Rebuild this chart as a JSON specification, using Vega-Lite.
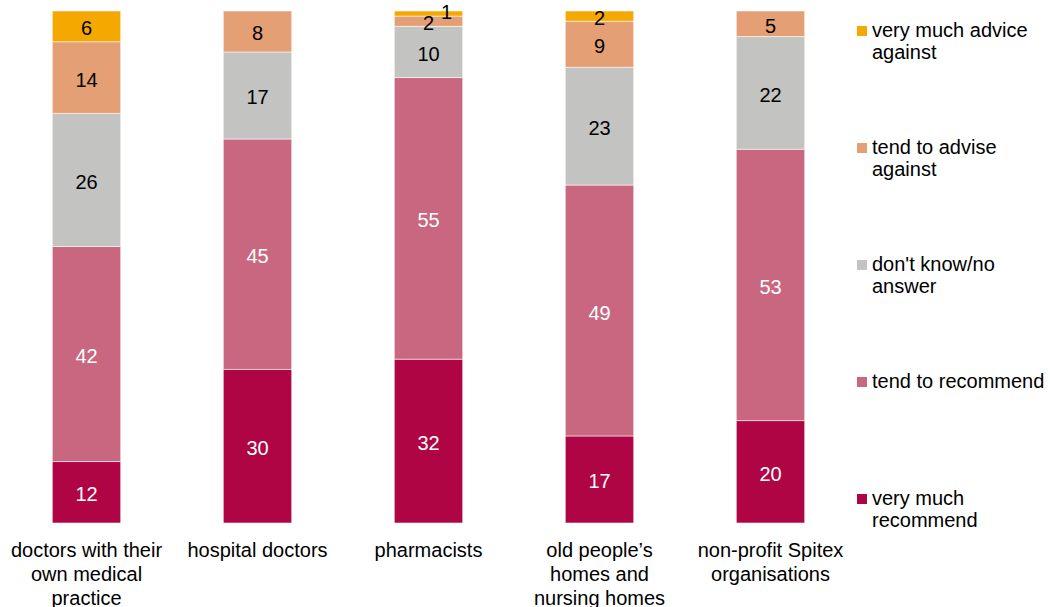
{
  "$schema": "https://vega.github.io/schema/vega-lite/v6.json",
  "width": 855,
  "height": 512,
  "autosize": {"type": "none"},
  "padding": {"left": 1, "top": 11, "right": 194, "bottom": 84},
  "background": "white",
  "config": {
    "font": "Liberation Sans",
    "view": {"stroke": null}
  },
  "data": {
    "values": [
      {"group": "doctors with their own medical practice", "answer": "very much recommend", "rank": 1, "value": 12},
      {"group": "doctors with their own medical practice", "answer": "tend to recommend", "rank": 2, "value": 42},
      {"group": "doctors with their own medical practice", "answer": "don't know/no answer", "rank": 3, "value": 26},
      {"group": "doctors with their own medical practice", "answer": "tend to advise against", "rank": 4, "value": 14},
      {"group": "doctors with their own medical practice", "answer": "very much advice against", "rank": 5, "value": 6},
      {"group": "hospital doctors", "answer": "very much recommend", "rank": 1, "value": 30},
      {"group": "hospital doctors", "answer": "tend to recommend", "rank": 2, "value": 45},
      {"group": "hospital doctors", "answer": "don't know/no answer", "rank": 3, "value": 17},
      {"group": "hospital doctors", "answer": "tend to advise against", "rank": 4, "value": 8},
      {"group": "pharmacists", "answer": "very much recommend", "rank": 1, "value": 32},
      {"group": "pharmacists", "answer": "tend to recommend", "rank": 2, "value": 55},
      {"group": "pharmacists", "answer": "don't know/no answer", "rank": 3, "value": 10},
      {"group": "pharmacists", "answer": "tend to advise against", "rank": 4, "value": 2},
      {"group": "pharmacists", "answer": "very much advice against", "rank": 5, "value": 1},
      {"group": "old people’s homes and nursing homes", "answer": "very much recommend", "rank": 1, "value": 17},
      {"group": "old people’s homes and nursing homes", "answer": "tend to recommend", "rank": 2, "value": 49},
      {"group": "old people’s homes and nursing homes", "answer": "don't know/no answer", "rank": 3, "value": 23},
      {"group": "old people’s homes and nursing homes", "answer": "tend to advise against", "rank": 4, "value": 9},
      {"group": "old people’s homes and nursing homes", "answer": "very much advice against", "rank": 5, "value": 2},
      {"group": "non-profit Spitex organisations", "answer": "very much recommend", "rank": 1, "value": 20},
      {"group": "non-profit Spitex organisations", "answer": "tend to recommend", "rank": 2, "value": 53},
      {"group": "non-profit Spitex organisations", "answer": "don't know/no answer", "rank": 3, "value": 22},
      {"group": "non-profit Spitex organisations", "answer": "tend to advise against", "rank": 4, "value": 5}
    ]
  },
  "transform": [
    {"stack": "value", "groupby": ["group"], "sort": [{"field": "rank", "order": "ascending"}], "as": ["v0", "v1"]},
    {"calculate": "(datum.v0 + datum.v1) / 2", "as": "mid"}
  ],
  "encoding": {
    "x": {
      "field": "group",
      "type": "nominal",
      "sort": null,
      "scale": {"paddingInner": 0.6, "paddingOuter": 0.3},
      "axis": {
        "title": null,
        "domain": false,
        "ticks": false,
        "labelAngle": 0,
        "labelFontSize": 20,
        "labelColor": "black",
        "labelLineHeight": 24,
        "labelPadding": 17,
        "labelBaseline": "top",
        "labelExpr": "datum.label == 'doctors with their own medical practice' ? ['doctors with their', 'own medical', 'practice'] : datum.label == 'old people’s homes and nursing homes' ? ['old people’s', 'homes and', 'nursing homes'] : datum.label == 'non-profit Spitex organisations' ? ['non-profit Spitex', 'organisations'] : datum.label"
      }
    }
  },
  "layer": [
    {
      "mark": {"type": "bar", "stroke": "white", "strokeWidth": 0.8, "strokeOpacity": 0.7},
      "encoding": {
        "y": {"field": "v0", "type": "quantitative", "scale": {"domain": [0, 100], "nice": false}, "axis": null},
        "y2": {"field": "v1"},
        "color": {
          "field": "answer",
          "type": "nominal",
          "scale": {
            "domain": ["very much advice against", "tend to advise against", "don't know/no answer", "tend to recommend", "very much recommend"],
            "range": ["#F5A800", "#E49F74", "#C3C3C1", "#C8677F", "#AF0545"]
          },
          "legend": {
            "title": null,
            "orient": "none",
            "legendX": 851,
            "legendY": -4,
            "symbolType": "square",
            "symbolSize": 100,
            "symbolStrokeWidth": 0,
            "labelFontSize": 20,
            "labelColor": "black",
            "labelOffset": 0,
            "labelLimit": 300,
            "rowPadding": 61,
            "clipHeight": 48,
            "labelExpr": "datum.label == 'very much advice against' ? ['very much advice', 'against'] : datum.label == 'tend to advise against' ? ['tend to advise', 'against'] : datum.label == \"don't know/no answer\" ? [\"don't know/no\", 'answer'] : datum.label == 'very much recommend' ? ['very much', 'recommend'] : [datum.label, '']",
            "encode": {
              "labels": {
                "enter": {"lineHeight": {"value": 25}},
                "update": {"lineHeight": {"value": 25}}
              }
            }
          }
        }
      }
    },
    {
      "transform": [{"filter": "datum.value > 1"}],
      "mark": {"type": "text", "fontSize": 20, "baseline": "middle", "align": "center", "dy": 3},
      "encoding": {
        "y": {"field": "mid", "type": "quantitative"},
        "text": {"field": "value", "type": "quantitative"},
        "color": {"condition": {"test": "datum.rank <= 2", "value": "white"}, "value": "black"}
      }
    },
    {
      "transform": [{"filter": "datum.value <= 1"}],
      "mark": {"type": "text", "fontSize": 20, "baseline": "middle", "align": "center", "dx": 18, "dy": -1},
      "encoding": {
        "y": {"field": "mid", "type": "quantitative"},
        "text": {"field": "value", "type": "quantitative"},
        "color": {"value": "black"}
      }
    }
  ]
}
